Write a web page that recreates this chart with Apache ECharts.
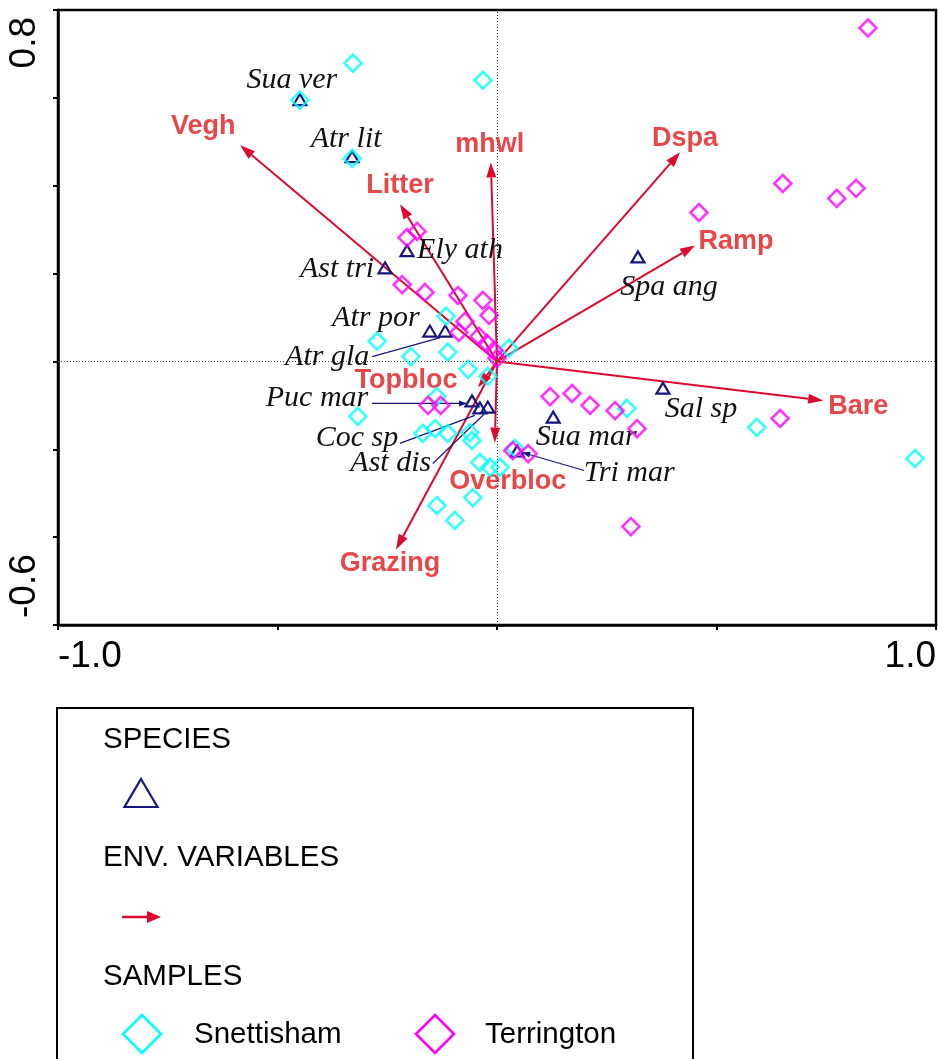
<!DOCTYPE html>
<html>
<head>
<meta charset="utf-8">
<script src="https://cdn.jsdelivr.net/npm/echarts@6/dist/echarts.min.js"></script>
<style>
  html, body { margin: 0; padding: 0; background: #fff; }
  #chart { width: 938px; height: 1059px; }
</style>
</head>
<body>
<div id="chart"></div>
<script>
// CCA ordination scores (axis 1, axis 2)
const snettisham = [
  [-0.328, 0.679], [-0.032, 0.640], [-0.449, 0.595], [-0.330, 0.462],
  [-0.116, 0.103], [-0.273, 0.046], [-0.196, 0.011], [-0.112, 0.021],
  [0.027, 0.030], [-0.066, -0.018], [-0.021, -0.034], [-0.137, -0.080],
  [-0.317, -0.125], [-0.169, -0.164], [-0.141, -0.153], [-0.112, -0.164],
  [-0.062, -0.162], [-0.057, -0.180], [-0.039, -0.230], [-0.016, -0.241],
  [0.007, -0.241], [-0.055, -0.310], [-0.137, -0.328], [-0.096, -0.362],
  [0.041, -0.198], [0.296, -0.107], [0.592, -0.150], [0.952, -0.221]
];
const terrington = [
  [0.845, 0.759], [0.651, 0.405], [0.818, 0.394], [0.774, 0.371],
  [0.460, 0.339], [-0.182, 0.296], [-0.205, 0.282], [-0.216, 0.175],
  [-0.164, 0.157], [-0.089, 0.150], [-0.032, 0.139], [-0.018, 0.105],
  [-0.073, 0.091], [-0.087, 0.066], [-0.041, 0.057], [-0.023, 0.041],
  [-0.007, 0.025], [0.000, 0.007], [-0.157, -0.100], [-0.128, -0.100],
  [0.036, -0.203], [0.071, -0.210], [0.121, -0.080], [0.171, -0.073],
  [0.212, -0.100], [0.269, -0.112], [0.319, -0.153], [0.645, -0.130],
  [0.305, -0.376]
];
const speciesNames = ['Sua ver', 'Atr lit', 'Ely ath', 'Ast tri', 'Atr por', 'Atr gla',
  'Puc mar', 'Coc sp', 'Ast dis', 'Spa ang', 'Sal sp', 'Sua mar', 'Tri mar'];
const speciesScores = [
  [-0.449, 0.595], [-0.330, 0.465], [-0.205, 0.251], [-0.255, 0.212],
  [-0.153, 0.068], [-0.118, 0.068], [-0.057, -0.091], [-0.039, -0.107],
  [-0.021, -0.105], [0.321, 0.237], [0.378, -0.062], [0.128, -0.128],
  [0.046, -0.205]
];
const envNames = ['Vegh', 'mhwl', 'Litter', 'Dspa', 'Ramp', 'Bare', 'Topbloc', 'Overbloc', 'Grazing'];
const envScores = [
  [-0.585, 0.492], [-0.014, 0.453], [-0.221, 0.358], [0.417, 0.476],
  [0.451, 0.264], [0.743, -0.089], [-0.043, -0.059], [-0.005, -0.185],
  [-0.230, -0.428]
];
const xTickValues = [-1.0, 1.0];
const xTickLabels = ['-1.0', '1.0'];
const yTickValues = [0.8, -0.6];
const yTickLabels = ['0.8', '-0.6'];
const legendSpecies = 'SPECIES';
const legendEnv = 'ENV. VARIABLES';
const legendSamples = 'SAMPLES';
const sampleGroups = ['Snettisham', 'Terrington'];

// Label placement (pixel offsets from the point) and leader lines
const speciesLayout = {
  'Sua ver': { dx: -8, dy: -20 },
  'Atr lit': { dx: -6, dy: -18 },
  'Ely ath': { dx: 53, dy: -1 },
  'Ast tri': { dx: -48, dy: 1 },
  'Atr por': { dx: -54, dy: -13 },
  'Atr gla': { dx: -118, dy: 26, lead: [[-73, 25], [-5, 6]] },
  'Puc mar': { dx: -155, dy: -3, lead: [[-100, 2], [-5, 2]], head: true },
  'Coc sp': { dx: -123, dy: 30, lead: [[-80, 35], [-5, 7]] },
  'Ast dis': { dx: -97, dy: 56, lead: [[-55, 56], [-4, 7]] },
  'Spa ang': { dx: 31, dy: 30 },
  'Sal sp': { dx: 38, dy: 20 },
  'Sua mar': { dx: 33, dy: 19 },
  'Tri mar': { dx: 112, dy: 22, lead: [[67, 19], [5, 1]], head: true }
};
const envLayout = {
  'Vegh': [-37, -19], 'mhwl': [-1, -18], 'Litter': [0, -19], 'Dspa': [5, -14],
  'Ramp': [41, -4], 'Bare': [35, 6], 'Topbloc': [-72, -7], 'Overbloc': [13, 39],
  'Grazing': [-6, 14]
};

const NAVY = '#16167f';
const ARROW = '#dc0a2e';
const ENVTXT = '#e8474a';
const CYAN = '#00ffff';
const MAGENTA = '#ff00ff';

const chart = echarts.init(document.getElementById('chart'), null, { renderer: 'canvas' });

function arrowHead(tip, base, len, half) {
  const dx = tip[0] - base[0], dy = tip[1] - base[1];
  const L = Math.sqrt(dx * dx + dy * dy) || 1;
  const ux = dx / L, uy = dy / L;
  const bx = tip[0] - ux * len, by = tip[1] - uy * len;
  return {
    neck: [bx, by],
    pts: [tip, [bx - uy * half, by + ux * half], [bx + uy * half, by - ux * half]]
  };
}

const option = {
  animation: false,
  backgroundColor: '#fff',
  grid: {
    left: 58, top: 10, width: 878, height: 615,
    show: true, borderColor: '#000', borderWidth: 2.5, backgroundColor: 'transparent'
  },
  xAxis: {
    type: 'value', min: -1, max: 1, interval: 0.5,
    axisLine: { show: true, onZero: false, lineStyle: { color: '#000', width: 2.5 } },
    axisTick: { show: true, length: 5, lineStyle: { color: '#000', width: 2 } },
    axisLabel: { show: false },
    splitLine: { show: false }
  },
  yAxis: {
    type: 'value', min: -0.6, max: 0.8, interval: 0.2,
    axisLine: { show: true, onZero: false, lineStyle: { color: '#000', width: 2.5 } },
    axisTick: { show: true, length: 5, lineStyle: { color: '#000', width: 2 } },
    axisLabel: { show: false },
    splitLine: { show: false }
  },
  series: [
    {
      name: 'ENV. VARIABLES',
      type: 'custom',
      data: envScores.map((v, i) => ({ name: envNames[i], value: v })),
      markLine: {
        silent: true, symbol: 'none', label: { show: false },
        lineStyle: { color: '#444', width: 1, type: [1, 2] },
        data: [{ xAxis: 0 }, { yAxis: 0 }]
      },
      renderItem: function (params, api) {
        const name = envNames[params.dataIndex];
        const o = api.coord([0, 0]);
        const t = api.coord([api.value(0), api.value(1)]);
        const h = arrowHead(t, o, 15, 5);
        const off = envLayout[name];
        return {
          type: 'group',
          children: [
            { type: 'line', shape: { x1: o[0], y1: o[1], x2: h.neck[0], y2: h.neck[1] },
              style: { stroke: ARROW, lineWidth: 2 } },
            { type: 'polygon', shape: { points: h.pts }, style: { fill: ARROW } },
            { type: 'text', style: {
                text: name, x: t[0] + off[0], y: t[1] + off[1],
                fill: ENVTXT, fontSize: 27, fontWeight: 'bold', fontFamily: 'Liberation Sans',
                align: 'center', verticalAlign: 'middle' } }
          ]
        };
      }
    },
    {
      name: 'Snettisham', type: 'scatter', data: snettisham,
      symbol: 'diamond', symbolSize: 17,
      itemStyle: { color: 'transparent', borderColor: CYAN, borderWidth: 2.6 }
    },
    {
      name: 'Terrington', type: 'scatter', data: terrington,
      symbol: 'diamond', symbolSize: 17,
      itemStyle: { color: 'transparent', borderColor: MAGENTA, borderWidth: 2.6 }
    },
    {
      name: 'SPECIES',
      type: 'custom',
      data: speciesScores.map((v, i) => ({ name: speciesNames[i], value: v })),
      renderItem: function (params, api) {
        const name = speciesNames[params.dataIndex];
        const p = api.coord([api.value(0), api.value(1)]);
        const lay = speciesLayout[name];
        const children = [
          { type: 'polygon',
            shape: { points: [[p[0], p[1] - 6], [p[0] + 6.5, p[1] + 5], [p[0] - 6.5, p[1] + 5]] },
            style: { fill: 'none', stroke: NAVY, lineWidth: 2.2 } },
          { type: 'text', style: {
              text: name, x: p[0] + lay.dx, y: p[1] + lay.dy,
              fill: '#111', fontSize: 30, fontStyle: 'italic', fontFamily: 'Liberation Serif',
              align: 'center', verticalAlign: 'middle' } }
        ];
        if (lay.lead) {
          const a = [p[0] + lay.lead[0][0], p[1] + lay.lead[0][1]];
          const b = [p[0] + lay.lead[1][0], p[1] + lay.lead[1][1]];
          children.push({ type: 'line', shape: { x1: a[0], y1: a[1], x2: b[0], y2: b[1] },
            style: { stroke: NAVY, lineWidth: 1.2 } });
          if (lay.head) {
            const h = arrowHead(b, a, 8, 3);
            children.push({ type: 'polygon', shape: { points: h.pts }, style: { fill: NAVY } });
          }
        }
        return { type: 'group', children: children };
      }
    }
  ]
};

chart.setOption(option);

// Axis tick labels and the key, placed from the axis scales
const graphics = [];
const axisFont = { fontSize: 37, fontFamily: 'Liberation Sans', fill: '#000' };
xTickValues.forEach((v, i) => {
  const p = chart.convertToPixel({ gridIndex: 0 }, [v, -0.6]);
  graphics.push({ type: 'text', style: Object.assign({
    text: xTickLabels[i], x: p[0], y: p[1] + 32,
    align: i === 0 ? 'left' : 'right', verticalAlign: 'middle' }, axisFont) });
});
yTickValues.forEach((v, i) => {
  const p = chart.convertToPixel({ gridIndex: 0 }, [-1, v]);
  const top = v === Math.max.apply(null, yTickValues);
  graphics.push({ type: 'text', x: 25, y: p[1] + (top ? 7 : -7), rotation: Math.PI / 2,
    style: Object.assign({ text: yTickLabels[i], x: 0, y: 0,
      align: top ? 'right' : 'left', verticalAlign: 'middle' }, axisFont) });
});

const keyFont = { fontSize: 29.5, fontFamily: 'Liberation Sans', fill: '#000', verticalAlign: 'middle' };
graphics.push(
  { type: 'rect', shape: { x: 57, y: 708, width: 636, height: 420 },
    style: { fill: '#fff', stroke: '#000', lineWidth: 2 } },
  { type: 'text', style: Object.assign({ text: legendSpecies, x: 103, y: 740 }, keyFont) },
  { type: 'polygon', shape: { points: [[141, 779], [157.5, 807], [124.5, 807]] },
    style: { fill: 'none', stroke: NAVY, lineWidth: 2.2 } },
  { type: 'text', style: Object.assign({ text: legendEnv, x: 103, y: 858 }, keyFont) },
  { type: 'line', shape: { x1: 122, y1: 917, x2: 149, y2: 917 }, style: { stroke: ARROW, lineWidth: 2.5 } },
  { type: 'polygon', shape: { points: [[161, 917], [147, 911], [147, 923]] }, style: { fill: ARROW } },
  { type: 'text', style: Object.assign({ text: legendSamples, x: 103, y: 977 }, keyFont) },
  { type: 'polygon', shape: { points: [[142, 1015], [161, 1034], [142, 1053], [123, 1034]] },
    style: { fill: 'none', stroke: CYAN, lineWidth: 2.6 } },
  { type: 'text', style: Object.assign({ text: sampleGroups[0], x: 194, y: 1035 }, keyFont) },
  { type: 'polygon', shape: { points: [[435, 1015], [454, 1034], [435, 1053], [416, 1034]] },
    style: { fill: 'none', stroke: MAGENTA, lineWidth: 2.6 } },
  { type: 'text', style: Object.assign({ text: sampleGroups[1], x: 485, y: 1035 }, keyFont) }
);
chart.setOption({ graphic: graphics });
</script>
</body>
</html>
